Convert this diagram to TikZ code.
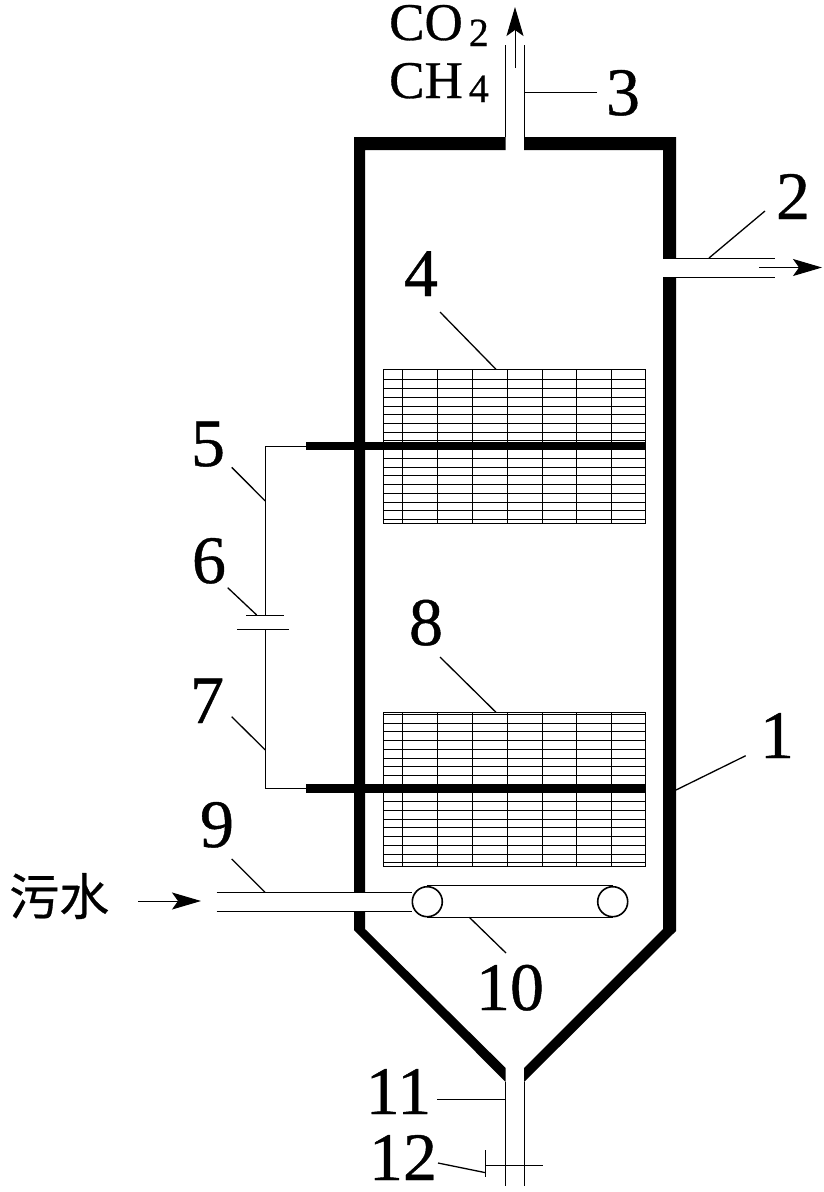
\documentclass[tikz,border=0pt]{standalone}
\usepackage{fontspec}
\setmainfont[FakeBold=0.6]{Liberation Serif}
\newfontfamily\cjkfont[FakeBold=0.6]{Noto Sans CJK SC}
\usetikzlibrary{arrows.meta}
\tikzset{
  wall/.style={fill=black,draw=none},
  thin line/.style={line width=1pt,draw=black},
  leader/.style={line width=1.3pt,draw=black},
  grid line/.style={line width=1pt,draw=black},
  rod/.style={line width=8.4pt,draw=black},
  flow/.style={line width=1pt,draw=black,-{Stealth[length=29pt,width=17pt,inset=6pt]}},
  num/.style={anchor=base,inner sep=0pt,font=\fontsize{68}{68}\selectfont},
  gas/.style={anchor=base west,inner sep=0pt,font=\fontsize{53}{53}\selectfont},
  roller/.style={circle,draw=black,line width=1.6pt,fill=white,minimum size=30pt,inner sep=0pt}
}
\newcommand{\gridblock}[3]{%
  \foreach \gx in {383.3,402.3,437.3,472.3,507.3,542.3,576.3,611.3,645.7}
    \draw[grid line] (\gx,#1) -- (\gx,#2);
  \foreach \gy in {#3}
    \draw[grid line] (383.3,\gy) -- (645.7,\gy);
}
\begin{document}
\begin{tikzpicture}[x=1pt,y=-1pt]
\useasboundingbox (0,0) rectangle (824,1192);
% grids
\gridblock{369.3}{523.3}{369.3,379.3,388.3,397.3,406.3,414.3,423.3,432.3,440.3,458.3,467.3,475.3,484.3,493.3,502.3,510.3,519.3,523.3}
\gridblock{712.3}{866}{712.3,714.7,723.3,731.7,740.7,749.7,758.3,766.7,775.7,801.7,810.3,819.3,827.3,836.3,845.3,854.3,862.3,866}
% vessel wall
\fill[wall] (505.7,137) -- (354,137) -- (354,892.3) -- (365,892.3) -- (365,150) -- (505.7,150) -- cycle;
\fill[wall] (354,911) -- (365,911) -- (365,929) -- (505.7,1068) -- (505.7,1082) -- (354,930) -- cycle;
\fill[wall] (524,137) -- (676,137) -- (676,258) -- (663,258) -- (663,150) -- (524,150) -- cycle;
\fill[wall] (676,277) -- (676,931) -- (524,1082) -- (524,1068) -- (663,929) -- (663,277) -- cycle;
% named points
\coordinate (topL0) at (505.7,45);   \coordinate (topL1) at (505.7,137);
\coordinate (topR0) at (524,45);     \coordinate (topR1) at (524,137);
\coordinate (outU0) at (663,258);    \coordinate (outU1) at (775,258);
\coordinate (outL0) at (663,277);    \coordinate (outL1) at (775,277);
\coordinate (inU0) at (216.7,892.3); \coordinate (inL0) at (216.7,911);
\coordinate (botL0) at (505.7,1082); \coordinate (botL1) at (505.7,1186);
\coordinate (botR0) at (524,1082);   \coordinate (botR1) at (524,1186);
\coordinate (rodA0) at (306,446);    \coordinate (rodA1) at (645.7,446);
\coordinate (rodB0) at (306,788.6);  \coordinate (rodB1) at (645.7,788.6);
\coordinate (bendA) at (265.3,446);  \coordinate (bendB) at (265.3,788.6);
\coordinate (capA) at (265.3,615);   \coordinate (capB) at (265.3,629.3);
\coordinate (capA0) at (246,615);    \coordinate (capA1) at (284,615);
\coordinate (capB0) at (237.3,629.3);\coordinate (capB1) at (289,629.3);
\coordinate (gasS) at (515,68);      \coordinate (gasT) at (515,7);
\coordinate (effS) at (759,267.5);   \coordinate (effT) at (822,267.5);
\coordinate (infS) at (138,901);     \coordinate (infT) at (201,901);
\coordinate (valve0) at (485.7,1165);\coordinate (valve1) at (542.7,1165);
\coordinate (valve2) at (485.7,1150);\coordinate (valve3) at (485.7,1177);
% rods
\draw[rod] (rodA0) -- (rodA1);
\draw[rod] (rodB0) -- (rodB1);
% pipes
\draw[thin line] (topL0) -- (topL1);
\draw[thin line] (topR0) -- (topR1);
\draw[thin line] (outU0) -- (outU1);
\draw[thin line] (outL0) -- (outL1);
\draw[thin line] (botL0) -- (botL1);
\draw[thin line] (botR0) -- (botR1);
% wire and capacitor
\draw[thin line] (rodA0) -- (bendA) -- (capA);
\draw[thin line] (rodB0) -- (bendB) -- (capB);
\draw[thin line] (capA0) -- (capA1);
\draw[thin line] (capB0) -- (capB1);
% distributor
\node[roller] (rollA) at (427.3,901.7) {};
\node[roller] (rollB) at (612.7,901.7) {};
\draw[thin line] (rollA.north) -- (rollB.north);
\draw[thin line] (rollA.south) -- (rollB.south);
\draw[thin line] (inU0) -- (inU0 -| rollA.west);
\draw[thin line] (inL0) -- (inL0 -| rollA.west);
% valve
\draw[thin line] (valve0) -- (valve1);
\draw[thin line] (valve2) -- (valve3);
% flow arrows
\draw[flow] (gasS) -- (gasT);
\draw[flow] (effS) -- (effT);
\draw[flow] (infS) -- (infT);
% texts
\node[gas] (co2) at (389,40) {CO\kern6pt\raisebox{-6pt}{\fontsize{40}{40}\selectfont 2}};
\node[gas] (ch4) at (389,98) {CH\kern6pt\raisebox{-4pt}{\fontsize{40}{40}\selectfont 4}};
\node[anchor=base west,inner sep=0pt,font=\cjkfont\fontsize{50}{50}\selectfont] (sewage) at (9,915) {污水};
\node[num] (n1) at (777,758) {1};
\node[num] (n2) at (793,219) {2};
\node[num] (n3) at (623,115) {3};
\node[num] (n4) at (421,296) {4};
\node[num] (n5) at (208,466) {5};
\node[num] (n6) at (209,583) {6};
\node[num] (n7) at (207,723) {7};
\node[num] (n8) at (426,645) {8};
\node[num] (n9) at (217,847) {9};
\node[num] (n10) at (510,1010) {10};
\node[num] (n11) at (398.5,1114) {11};
\node[num] (n12) at (403,1180) {12};
% leader lines
\coordinate (l1a) at (745.7,755.7); \coordinate (l1b) at (676,790);
\coordinate (l2a) at (765,211);     \coordinate (l2b) at (709,258);
\coordinate (l3a) at (597,92);      \coordinate (l3b) at (524,92);
\coordinate (l4a) at (440,312);     \coordinate (l4b) at (496,369.3);
\coordinate (l5a) at (231.7,467.3); \coordinate (l5b) at (265.3,501);
\coordinate (l6a) at (227.7,587.7); \coordinate (l6b) at (256.7,615);
\coordinate (l7a) at (231.7,716.7); \coordinate (l7b) at (265.3,750);
\coordinate (l8a) at (440,657);     \coordinate (l8b) at (496,712.3);
\coordinate (l9a) at (231.7,859);   \coordinate (l9b) at (265,892.3);
\coordinate (l10a) at (506,953);    \coordinate (l10b) at (469.3,917.3);
\coordinate (l11a) at (437,1099);   \coordinate (l11b) at (505.7,1099);
\coordinate (l12a) at (438,1163);   \coordinate (l12b) at (485.7,1172.7);
\foreach \k in {1,2,4,5,6,7,8,9,10,12}
  \draw[leader] (l\k a) -- (l\k b);
\foreach \k in {3,11}
  \draw[thin line] (l\k a) -- (l\k b);
\end{tikzpicture}
\end{document}
